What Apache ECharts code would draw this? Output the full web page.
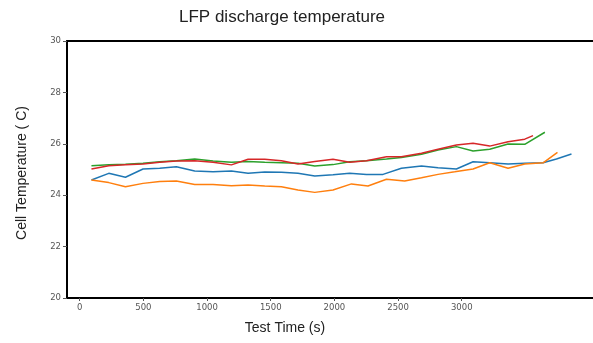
<!DOCTYPE html>
<html><head><meta charset="utf-8">
<script src="https://cdn.jsdelivr.net/npm/echarts@6/dist/echarts.min.js"></script>
<style>html,body{margin:0;padding:0;background:#fff}#c{width:593px;height:343px}</style>
</head><body><div id="c"></div>
<script>
const xTicks = [0, 500, 1000, 1500, 2000, 2500, 3000];
const yTicks = [20, 22, 24, 26, 28, 30];

const blueTime = [92,228,359,497,628,759,903,1047,1191,1322,1453,1584,1714,1846,1989,2120,2252,2382,2526,2684,2814,2958,3089,3220,3364,3495,3639,3744,3862];
const blueTemp = [24.59,24.85,24.70,25.02,25.05,25.11,24.94,24.91,24.94,24.85,24.90,24.89,24.85,24.75,24.80,24.85,24.81,24.81,25.05,25.14,25.07,25.02,25.30,25.26,25.21,25.24,25.26,25.41,25.60];

const orangeTime = [92,228,359,497,628,759,903,1047,1191,1322,1453,1584,1714,1846,1989,2134,2264,2409,2552,2684,2814,2945,3089,3220,3364,3495,3639,3752];
const orangeTemp = [24.59,24.49,24.33,24.46,24.53,24.55,24.42,24.42,24.37,24.40,24.36,24.33,24.20,24.11,24.20,24.44,24.36,24.62,24.55,24.68,24.81,24.91,25.02,25.26,25.05,25.21,25.26,25.67];

const greenTime = [92,228,359,497,628,759,903,1047,1191,1322,1453,1584,1714,1846,1989,2120,2252,2409,2526,2684,2814,2958,3089,3220,3364,3495,3653];
const greenTemp = [25.15,25.18,25.20,25.24,25.30,25.34,25.41,25.33,25.28,25.31,25.28,25.26,25.24,25.14,25.19,25.30,25.34,25.41,25.47,25.59,25.76,25.89,25.72,25.79,25.99,25.98,26.45];

const redTime = [92,228,359,497,628,759,903,1047,1191,1322,1453,1584,1714,1846,1989,2120,2252,2409,2526,2684,2814,2958,3089,3220,3364,3495,3560];
const redTemp = [25.02,25.15,25.18,25.21,25.28,25.33,25.34,25.28,25.18,25.40,25.40,25.34,25.21,25.31,25.40,25.28,25.34,25.50,25.50,25.63,25.79,25.95,26.02,25.91,26.08,26.18,26.32];

function pairs(t, v) { return t.map((x, i) => [x, v[i]]); }

const chart = echarts.init(document.getElementById('c'), null, {renderer: 'canvas'});
const tickFont = {fontFamily: 'DejaVu Sans', fontSize: 8.5, color: '#555'};
const mk = (name, t, v, color) => ({
  name, type: 'line', data: pairs(t, v), showSymbol: false, symbol: 'none',
  lineStyle: {color, width: 1.5}, itemStyle: {color}, animation: false, z: 3
});

chart.setOption({
  animation: false,
  grid: {left: 67, top: 41, right: 0, bottom: 45, containLabel: false},
  xAxis: [{
    type: 'value', min: -100, max: 4031, position: 'bottom',
    axisLine: {show: true, onZero: false, lineStyle: {color: '#000', width: 2}},
    axisTick: {show: true, length: 3, customValues: xTicks, lineStyle: {color: '#555'}},
    axisLabel: Object.assign({margin: 5, customValues: xTicks, formatter: v => String(v)}, tickFont),
    splitLine: {show: false}
  }, {
    type: 'value', min: -100, max: 4031, position: 'top',
    axisLine: {show: true, onZero: false, lineStyle: {color: '#000', width: 2}},
    axisTick: {show: false}, axisLabel: {show: false}, splitLine: {show: false}
  }],
  yAxis: [{
    type: 'value', min: 20, max: 30, interval: 2,
    axisLine: {show: true, onZero: false, lineStyle: {color: '#000', width: 2}},
    axisTick: {show: true, length: 4, lineStyle: {color: '#555'}},
    axisLabel: Object.assign({margin: 6, customValues: yTicks, formatter: v => String(v)}, tickFont),
    splitLine: {show: false}
  }],
  series: [
    mk('Cell 1', blueTime, blueTemp, '#1f77b4'),
    mk('Cell 2', orangeTime, orangeTemp, '#ff7f0e'),
    mk('Cell 3', greenTime, greenTemp, '#2ca02c'),
    mk('Cell 4', redTime, redTemp, '#d62728')
  ],
  graphic: [
    {type: 'text', x: 282, y: 17, style: {text: 'LFP discharge temperature', fontFamily: 'Liberation Sans', fontSize: 17, fill: '#222', align: 'center', verticalAlign: 'middle'}},
    {type: 'text', x: 285, y: 328, style: {text: 'Test Time (s)', fontFamily: 'Liberation Sans', fontSize: 14, fill: '#222', align: 'center', verticalAlign: 'middle'}},
    {type: 'text', x: 22, y: 173, rotation: Math.PI / 2, style: {text: 'Cell Temperature ( C)', fontFamily: 'Liberation Sans', fontSize: 14, fill: '#222', align: 'center', verticalAlign: 'middle'}}
  ]
});
</script>
</body></html>
